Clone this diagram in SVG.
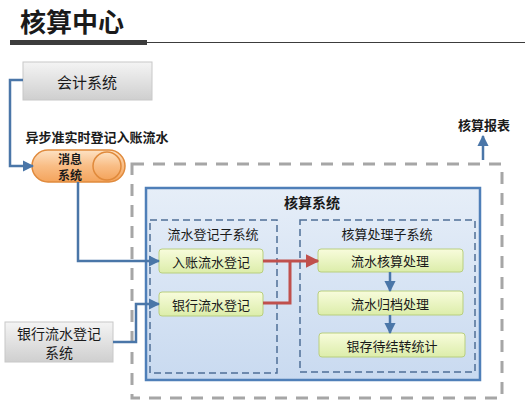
<svg xmlns="http://www.w3.org/2000/svg" width="525" height="406" viewBox="0 0 525 406">
<defs>
<linearGradient id="gGray" x1="0" y1="0" x2="0" y2="1"><stop offset="0" stop-color="#f4f4f4"/><stop offset="1" stop-color="#cfcfcf"/></linearGradient>
<linearGradient id="gOrange" x1="0" y1="0" x2="0" y2="1"><stop offset="0" stop-color="#fde2c4"/><stop offset="0.5" stop-color="#f9bd85"/><stop offset="1" stop-color="#f4a45c"/></linearGradient>
<linearGradient id="gBlue" x1="0" y1="0" x2="0" y2="1"><stop offset="0" stop-color="#e6eef8"/><stop offset="1" stop-color="#c9daf0"/></linearGradient>
<linearGradient id="gGreen" x1="0" y1="0" x2="0" y2="1"><stop offset="0" stop-color="#f8fcdc"/><stop offset="1" stop-color="#dcedaa"/></linearGradient>
<marker id="aBlue" viewBox="0 0 10 10" refX="9" refY="5" markerWidth="4.5" markerHeight="4.5" orient="auto"><path d="M0,0 L10,5 L0,10 z" fill="#4a76a8"/></marker>
<marker id="aRed" viewBox="0 0 10 10" refX="9" refY="5" markerWidth="4.5" markerHeight="4.5" orient="auto"><path d="M0,0 L10,5 L0,10 z" fill="#c0504d"/></marker>
</defs>
<style>
.t{font-family:"Noto Sans CJK SC","Liberation Sans",sans-serif;fill:#1a1a1a;text-anchor:middle;dominant-baseline:central}
.b{font-weight:bold}
.gray{fill:url(#gGray);stroke:#c8c8c8;stroke-width:1}
.green{fill:url(#gGreen);stroke:#b9cf7e;stroke-width:1}
.sub{fill:none;stroke:#4f6f96;stroke-width:1.5;stroke-dasharray:7 4}
.bl{fill:none;stroke:#4a76a8;stroke-width:2.5}
.rd{fill:none;stroke:#c0504d;stroke-width:3}
</style>
<rect width="525" height="406" fill="#ffffff"/>
<g id="title">
<text class="t b" x="72" y="20" style="font-size:26px">核算中心</text>
<rect x="10" y="40" width="137" height="5" fill="#3c3c3c"/>
<line x1="147" y1="42.5" x2="525" y2="42.5" stroke="#3c3c3c" stroke-width="1.2"/>
</g>
<g id="outer">
<rect x="132" y="164" width="370" height="234" fill="none" stroke="#a6a6a6" stroke-width="3" stroke-dasharray="12 9"/>
</g>
<g id="core">
<rect x="146" y="188" width="334" height="192" fill="url(#gBlue)" stroke="#4f7fb8" stroke-width="2.5"/>
<text class="t b" x="312" y="202" style="font-size:14px">核算系统</text>
</g>
<g id="sub1">
<rect class="sub" x="150" y="220" width="127" height="153"/>
<text class="t" x="213" y="233" style="font-size:13px">流水登记子系统</text>
</g>
<g id="sub2">
<rect class="sub" x="300" y="220" width="175" height="152"/>
<text class="t" x="387" y="233" style="font-size:13px">核算处理子系统</text>
</g>
<g id="kuaiji">
<rect class="gray" x="23" y="62" width="129" height="38"/>
<text class="t" x="87" y="81" style="font-size:15px">会计系统</text>
</g>
<g id="xiaoxi">
<rect x="32" y="150" width="93" height="32" rx="16" fill="url(#gOrange)" stroke="#e08a3c" stroke-width="1.5"/>
<circle cx="107" cy="166" r="14" fill="url(#gOrange)" stroke="#e08a3c" stroke-width="1.5"/>
<text class="t b" x="70" y="158" style="font-size:12px">消息</text>
<text class="t b" x="70" y="174" style="font-size:12px">系统</text>
</g>
<g id="bank">
<rect class="gray" x="5" y="322" width="108" height="40"/>
<text class="t" x="59" y="333" style="font-size:14px">银行流水登记</text>
<text class="t" x="59" y="352" style="font-size:14px">系统</text>
</g>
<g id="n1"><rect class="green" x="159" y="249" width="104" height="24" rx="3"/><text class="t" x="211" y="261" style="font-size:13px">入账流水登记</text></g>
<g id="n2"><rect class="green" x="159" y="292" width="104" height="24" rx="3"/><text class="t" x="211" y="304" style="font-size:13px">银行流水登记</text></g>
<g id="n3"><rect class="green" x="318" y="249" width="145" height="23" rx="3"/><text class="t" x="390" y="260.5" style="font-size:13px">流水核算处理</text></g>
<g id="n4"><rect class="green" x="318" y="291" width="145" height="24" rx="3"/><text class="t" x="390" y="303" style="font-size:13px">流水归档处理</text></g>
<g id="n5"><rect class="green" x="319" y="333" width="146" height="24" rx="3"/><text class="t" x="392" y="345" style="font-size:13px">银存待结转统计</text></g>
<g id="labels">
<text class="t b" x="97" y="136" style="font-size:13px">异步准实时登记入账流水</text>
<text class="t b" x="484" y="124" style="font-size:13px">核算报表</text>
</g>
<g id="connectors">
<path class="bl" d="M23,80 H10 V166 H33" marker-end="url(#aBlue)"/>
<path class="bl" d="M78,182 V261 H159" marker-end="url(#aBlue)"/>
<path class="bl" d="M113,342 H136 V304 H159" marker-end="url(#aBlue)"/>
<path class="rd" d="M263,261 H318" marker-end="url(#aRed)"/>
<path class="rd" d="M263,303 H290 V261"/>
<path class="bl" d="M390,272 V291" marker-end="url(#aBlue)"/>
<path class="bl" d="M390,315 V333" marker-end="url(#aBlue)"/>
<path class="bl" d="M483,160 V136" marker-end="url(#aBlue)"/>
</g>
</svg>
